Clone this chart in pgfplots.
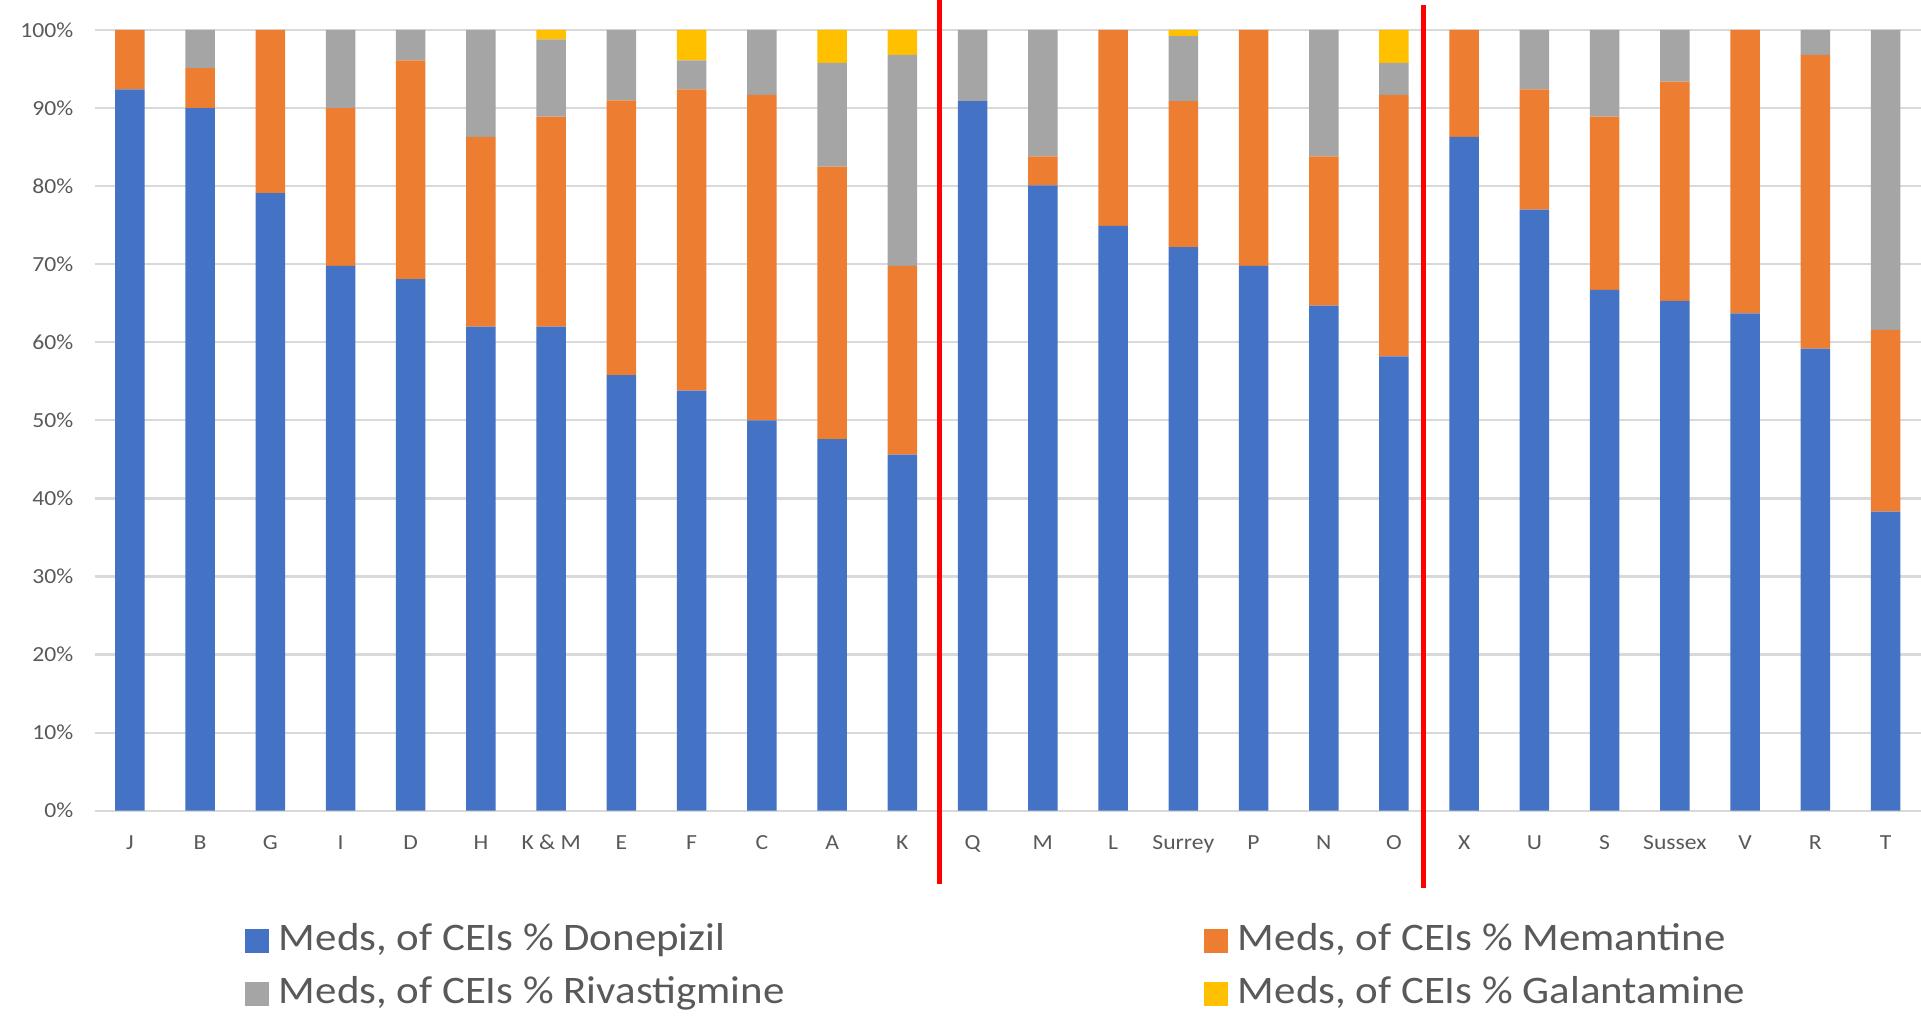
\documentclass[border=0pt]{standalone}
\usepackage{fontspec}
\setmainfont{Carlito}[FakeStretch=1.1]
\usepackage{pgfplots}
\usepackage{pgfplotstable}
\pgfplotsset{compat=1.18}
\definecolor{cDon}{HTML}{4472C4}
\definecolor{cMem}{HTML}{ED7D31}
\definecolor{cRiv}{HTML}{A5A5A5}
\definecolor{cGal}{HTML}{FFC000}
\definecolor{gridc}{HTML}{D9D9D9}
\definecolor{tickc}{HTML}{595959}
\definecolor{redline}{HTML}{FF0000}

\pgfplotstableread{
x don mem riv gal
0 92.4 7.6 0 0
1 90.0 5.1 4.9 0
2 79.1 20.9 0 0
3 69.8 20.2 10.0 0
4 68.1 28.0 3.9 0
5 62.0 24.3 13.7 0
6 62.0 26.9 9.9 1.2
7 55.8 35.2 9.0 0
8 53.8 38.6 3.7 3.9
9 50.0 41.7 8.3 0
10 47.6 34.9 13.3 4.2
11 45.6 24.2 27.0 3.2
12 90.9 0 9.1 0
13 80.1 3.7 16.2 0
14 74.9 25.1 0 0
15 72.2 18.7 8.3 0.8
16 69.8 30.2 0 0
17 64.7 19.1 16.2 0
18 58.2 33.5 4.1 4.2
19 86.3 13.7 0 0
20 77.0 15.4 7.6 0
21 66.7 22.2 11.1 0
22 65.3 28.1 6.6 0
23 63.7 36.3 0 0
24 59.2 37.6 3.2 0
25 38.3 23.3 38.4 0
}\meds

\begin{document}
\begin{tikzpicture}
\useasboundingbox (0,0) rectangle (960.5pt,508pt);
\begin{axis}[
  at={(47.35pt,102.65pt)}, anchor=south west,
  scale only axis, width=913pt, height=390.35pt,
  ybar stacked, bar width=0.42,
  xmin=-0.5, xmax=25.5, ymin=0, ymax=100,
  xtick={0,1,...,25},
  xticklabels={J,B,G,I,D,H,K \& M,E,F,C,A,K,Q,M,L,Surrey,P,N,O,X,U,S,Sussex,V,R,T},
  ytick={0,10,...,100},
  yticklabels={0\%,10\%,20\%,30\%,40\%,50\%,60\%,70\%,80\%,90\%,100\%},
  ymajorgrids, grid style={draw=gridc, line width=1.1pt},
  axis line style={draw=none},
  major tick length=0pt, tick style={draw=none},
  ticklabel style={font=\fontsize{10.75}{12}\selectfont, text=tickc},
  yticklabel style={anchor=east, inner sep=0pt, xshift=-10.5pt},
  xticklabel style={anchor=base, inner sep=0pt, yshift=-19.2pt},
  clip=false,
  legend columns=2,
  legend cell align=left,
  legend image code/.code={\fill[#1, draw=none] (0pt,-6pt) rectangle (12pt,6pt);},
  legend style={at={(0.0823,-0.1362)}, anchor=north west, draw=none, fill=none,
    inner sep=0pt, outer sep=0pt, column sep=0pt, row sep=3pt,
    font=\fontsize{19.5}{22}\selectfont, text=tickc,
    nodes={inner xsep=5pt, inner ysep=2.5pt, text height=14pt, text depth=4.5pt}},
]
\addplot[fill=cDon, draw=none] table[x=x, y=don] {\meds};
\addlegendentry{\makebox[457.5pt][l]{Meds, of CEIs \% Donepizil}}
\addplot[fill=cMem, draw=none] table[x=x, y=mem] {\meds};
\addlegendentry{Meds, of CEIs \% Memantine}
\addplot[fill=cRiv, draw=none] table[x=x, y=riv] {\meds};
\addlegendentry{\makebox[457.5pt][l]{Meds, of CEIs \% Rivastigmine}}
\addplot[fill=cGal, draw=none] table[x=x, y=gal] {\meds};
\addlegendentry{Meds, of CEIs \% Galantamine}
\draw[redline, line width=2.5pt] (axis cs:11.53,-9.4) -- (axis cs:11.53,103.8);
\draw[redline, line width=2.5pt] (axis cs:18.42,-9.9) -- (axis cs:18.42,103.2);
\end{axis}
\end{tikzpicture}
\end{document}
